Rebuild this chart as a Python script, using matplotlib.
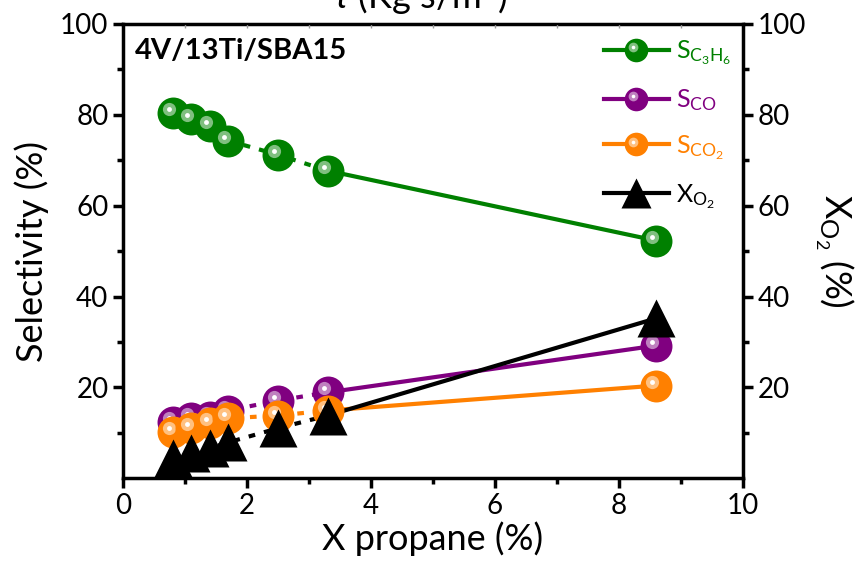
import numpy as np
import matplotlib
matplotlib.use('Agg')
import matplotlib.pyplot as plt
from matplotlib.lines import Line2D
from matplotlib.legend_handler import HandlerLine2D
from matplotlib.transforms import offset_copy, ScaledTranslation
from matplotlib.ticker import MultipleLocator, FixedLocator

plt.rcParams['font.family'] = ['Lato', 'DejaVu Sans']
plt.rcParams['mathtext.fontset'] = 'custom'
plt.rcParams['mathtext.rm'] = 'Lato'
plt.rcParams['mathtext.it'] = 'Lato:italic'

# data
x_propane = [0.8, 1.1, 1.4, 1.7, 2.5, 3.3, 8.6]
s_c3h6 = [80.4, 79.1, 77.6, 74.3, 71.2, 67.7, 52.3]
s_co = [12.3, 13.2, 13.4, 14.9, 17.1, 18.9, 29.2]
s_co2 = [10.1, 11.0, 12.1, 13.2, 13.8, 14.9, 20.4]
x_o2 = [4.4, 5.5, 6.6, 7.9, 11.0, 13.8, 35.2]

green = '#008000'
purple = '#800080'
orange = '#ff8000'
light = {green: '#7fbf7f', purple: '#bf80bf', orange: '#ffc080'}

fig = plt.figure(figsize=(8.66, 5.70), dpi=100)
ax = fig.add_axes([0.142, 0.161, 0.716, 0.797])

lw = 3
hl1 = offset_copy(ax.transData, fig=fig, x=-2.8, y=2.8, units='points')


def series(y, col):
    # dotted for the short-time points, solid to the last one
    ax.plot(x_propane[:6], y[:6], color=col, lw=lw, ls=(0, (1.6, 2.2)), zorder=2)
    ax.plot(x_propane[5:], y[5:], color=col, lw=lw, ls='-', zorder=2)


def balls(y, col, z):
    for xi, yi in zip(x_propane, y):
        ax.plot([xi], [yi], 'o', ms=23, color=col, mec='none', zorder=z)
        ax.plot([xi], [yi], 'o', ms=9.5, color=light[col], mec='none', zorder=z, transform=hl1)
        ax.plot([xi], [yi], 'o', ms=3.5, color='white', mec='none', zorder=z, transform=hl1)


series(s_c3h6, green)
series(s_co, purple)
series(s_co2, orange)
series(x_o2, 'black')
balls(s_c3h6, green, 3)
balls(s_co, purple, 4)
balls(s_co2, orange, 5)
ax.plot(x_propane, x_o2, '^', ms=28, color='black', mec='none', zorder=6)

ax.set_xlim(0, 10)
ax.set_ylim(0, 100)
ax.xaxis.set_major_locator(MultipleLocator(2))
ax.xaxis.set_minor_locator(MultipleLocator(1))
ax.yaxis.set_major_locator(FixedLocator([20, 40, 60, 80, 100]))
ax.yaxis.set_minor_locator(FixedLocator([10, 30, 50, 70, 90]))
for s in ax.spines.values():
    s.set_linewidth(2.5)
ax.tick_params(which='major', direction='out', length=7, width=2.5, labelsize=20)
ax.tick_params(which='minor', direction='out', length=4, width=2.5)
ax.tick_params(axis='x', which='both', top=False)
ax.tick_params(axis='y', which='both', right=False)
ax.set_xlabel('X propane (%)', fontsize=26, labelpad=2)
ax.set_ylabel('Selectivity (%)', fontsize=26, labelpad=8)

# faint ticks of the (cut off) top axis
axt = ax.twiny()
axt.set_xlim(0, 10)
axt.xaxis.set_major_locator(FixedLocator(range(1, 10)))
axt.tick_params(axis='x', direction='in', length=3, width=1, color='#999999', labeltop=False)

axr = ax.twinx()
axr.set_ylim(0, 100)
axr.yaxis.set_major_locator(FixedLocator([20, 40, 60, 80, 100]))
axr.yaxis.set_minor_locator(FixedLocator([10, 30, 50, 70, 90]))
axr.tick_params(which='major', direction='out', length=7, width=2.5, labelsize=20)
axr.tick_params(which='minor', direction='out', length=4, width=2.5)
axr.set_ylabel(r'X$_{\mathrm{O_2}}$ (%)', fontsize=26, rotation=270, labelpad=36)

fig.text(0.485, 1 - 9 / 570, r'$\tau$ (Kg s/m$^3$)', fontsize=26, ha='center', va='baseline')

ax.text(0.02, 0.94, '4V/13Ti/SBA15', transform=ax.transAxes, fontsize=21,
        fontweight='bold', va='center', ha='left')


class BallHandler(HandlerLine2D):
    def __init__(self, lightcol, **kw):
        super().__init__(**kw)
        self.lightcol = lightcol

    def create_artists(self, legend, orig_handle, xdescent, ydescent, width, height, fontsize, trans):
        arts = super().create_artists(legend, orig_handle, xdescent, ydescent, width, height, fontsize, trans)
        cx = -xdescent + width / 2
        cy = (height - ydescent) / 2
        off = trans + ScaledTranslation(-2.0 / 72, 2.0 / 72, legend.figure.dpi_scale_trans)
        for size, c in [(7, self.lightcol), (2.6, 'white')]:
            l = Line2D([cx], [cy], marker='o', ms=size, color=c, mec='none', ls='none')
            l.set_transform(off)
            arts.append(l)
        return arts


h1 = Line2D([], [], color=green, lw=lw, marker='o', ms=17, mec='none')
h2 = Line2D([], [], color=purple, lw=lw, marker='o', ms=17, mec='none')
h3 = Line2D([], [], color=orange, lw=lw, marker='o', ms=17, mec='none')
h4 = Line2D([], [], color='black', lw=lw, marker='^', ms=21, mec='none')
leg = ax.legend([h1, h2, h3, h4],
                [r'S$_{\mathrm{C_3H_6}}$', r'S$_{\mathrm{CO}}$', r'S$_{\mathrm{CO_2}}$', r'X$_{\mathrm{O_2}}$'],
                handler_map={h1: BallHandler(light[green]), h2: BallHandler(light[purple]),
                             h3: BallHandler(light[orange])},
                loc='upper left', bbox_to_anchor=(0.755, 0.995), frameon=False, numpoints=1,
                fontsize=18, handlelength=2.6, labelspacing=0.8, borderpad=0, handletextpad=0.3)
for t, c in zip(leg.get_texts(), [green, purple, orange, 'black']):
    t.set_color(c)

fig.savefig('out.png', dpi=100)
